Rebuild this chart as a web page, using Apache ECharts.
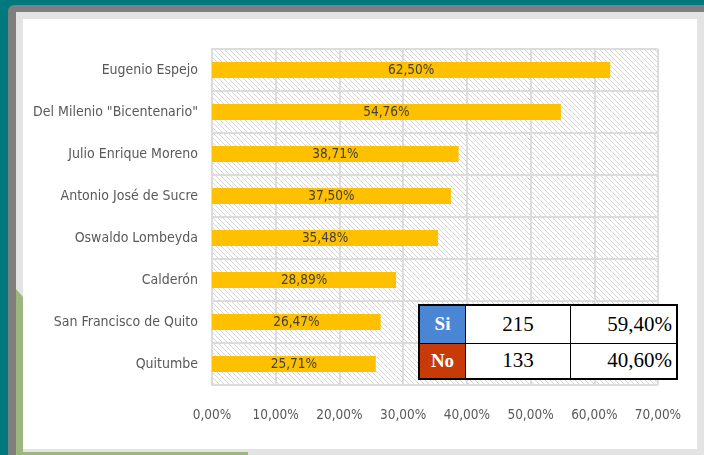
<!DOCTYPE html>
<html>
<head>
<meta charset="utf-8">
<script src="https://cdn.jsdelivr.net/npm/echarts@6/dist/echarts.min.js"></script>
<style>
html, body { margin: 0; padding: 0; }
body { width: 704px; height: 455px; overflow: hidden; background: #00787e; position: relative; }
.frame { position: absolute; left: 8px; top: 5px; width: 720px; height: 470px; background: #7f7f7f; border-radius: 6px; }
.border { position: absolute; left: 16px; top: 12px; width: 688px; height: 443px; background: #e3e3e3; }
.green { position: absolute; left: 16px; top: 289px; width: 232px; height: 166px; background: #9bb77e;
  clip-path: polygon(0 0, 7px 8px, 7px 163px, 100% 163px, 100% 100%, 0 100%); }
.panel { position: absolute; left: 23px; top: 19px; width: 674px; height: 430px; background: #fff; }
#chart { position: absolute; left: 0; top: 0; width: 704px; height: 455px; }
table.tbl { position: absolute; left: 418px; top: 304px; width: 260px; height: 74px; border-collapse: collapse;
  background: #fff; border: 2px solid #000; font-family: 'Liberation Serif', 'DejaVu Serif', serif; }
table.tbl td { border: 1px solid #000; padding: 0 4px; font-size: 21px; color: #000; }
table.tbl td.k { width: 37px; color: #fff; font-weight: bold; text-align: center; font-size: 19px; }
table.tbl td.n { width: 96px; text-align: center; }
table.tbl td.p { text-align: right; }
</style>
</head>
<body>
<div class="frame"></div>
<div class="border"></div>
<div class="green"></div>
<div class="panel"></div>
<div id="chart"></div>
<table class="tbl" id="tbl"></table>
<script>
// datos del grafico
var categorias = ['Eugenio Espejo', 'Del Milenio "Bicentenario"', 'Julio Enrique Moreno', 'Antonio José de Sucre',
  'Oswaldo Lombeyda', 'Calderón', 'San Francisco de Quito', 'Quitumbe'];
var porcentajes = [62.50, 54.76, 38.71, 37.50, 35.48, 28.89, 26.47, 25.71];
var ejeMin = 0, ejeMax = 70, ejeIntervalo = 10;

// tabla Si / No
var respuestas = ['Si', 'No'];
var cantidades = [215, 133];
var porcentajesTabla = ['59,40%', '40,60%'];
var coloresTabla = ['#4a86d4', '#c83a08'];

var fuente = "'DejaVu Sans Condensed', sans-serif";

function fmt(v) {
  return v.toFixed(2).replace('.', ',') + '%';
}

// patron rayado del fondo
var cv = document.createElement('canvas');
cv.width = 5; cv.height = 5;
var cx = cv.getContext('2d');
cx.fillStyle = '#ffffff';
cx.fillRect(0, 0, 5, 5);
cx.fillStyle = '#d6d6d6';
for (var i = 0; i < 5; i++) cx.fillRect(i, i, 1, 1);

var myChart = echarts.init(document.getElementById('chart'));
var option = {
  animation: false,
  grid: {
    left: 212, top: 49, width: 446, height: 336,
    show: true,
    backgroundColor: { image: cv, repeat: 'repeat' },
    borderWidth: 0
  },
  xAxis: {
    type: 'value',
    min: ejeMin, max: ejeMax, interval: ejeIntervalo,
    axisLine: { show: false },
    axisTick: { show: false },
    axisLabel: { color: '#595959', fontFamily: fuente, fontSize: 13.5, margin: 23, formatter: fmt },
    splitLine: { show: true, lineStyle: { color: '#dcdcdc', width: 2 } }
  },
  yAxis: {
    type: 'category',
    inverse: true,
    data: categorias,
    axisLine: { show: true, lineStyle: { color: '#dcdcdc', width: 2 } },
    axisTick: { show: false },
    axisLabel: { color: '#595959', fontFamily: fuente, fontSize: 14, margin: 14 },
    splitLine: { show: true, lineStyle: { color: '#dcdcdc', width: 2 } }
  },
  series: [{
    type: 'bar',
    data: porcentajes,
    barWidth: 16,
    itemStyle: { color: '#ffc000' },
    label: {
      show: true, position: 'inside', color: '#404040',
      fontFamily: fuente, fontSize: 13.5,
      formatter: function (p) { return fmt(p.value); }
    }
  }]
};
myChart.setOption(option);

var html = '';
for (var r = 0; r < respuestas.length; r++) {
  html += '<tr style="height:' + (r === 0 ? 38 : 36) + 'px">' +
    '<td class="k" style="background:' + coloresTabla[r] + '">' + respuestas[r] + '</td>' +
    '<td class="n">' + cantidades[r] + '</td>' +
    '<td class="p">' + porcentajesTabla[r] + '</td></tr>';
}
document.getElementById('tbl').innerHTML = html;
</script>
</body>
</html>
